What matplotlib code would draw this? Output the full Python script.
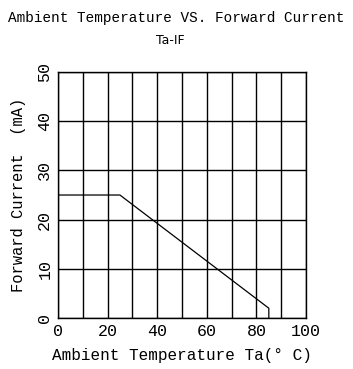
import matplotlib
matplotlib.use("Agg")
import matplotlib.pyplot as plt

# derating curve: ambient temperature vs. max forward current
temp = [0, 25, 85, 85]
current = [25, 25, 2, 0]

xticks = [0, 20, 40, 60, 80, 100]
yticks = [0, 10, 20, 30, 40, 50]

mono = "Liberation Mono"

fig = plt.figure(figsize=(3.53, 3.69), dpi=100)
ax = fig.add_axes([0.164, 0.138, 0.703, 0.667])

ax.plot(temp, current, color="black", lw=0.9)

ax.set_xlim(0, 100)
ax.set_ylim(0, 50)
ax.set_xticks(xticks)
ax.set_yticks(yticks)
ax.set_xticks(range(0, 101, 10), minor=True)
ax.grid(True, which="both", color="black", lw=1.0)
ax.tick_params(which="both", length=0)
ax.tick_params(axis="x", pad=4)
ax.tick_params(axis="y", pad=4)
for lbl in ax.get_xticklabels():
    lbl.set_fontfamily(mono)
    lbl.set_fontsize(12)
for lbl in ax.get_yticklabels():
    lbl.set_fontfamily(mono)
    lbl.set_fontsize(12)
    lbl.set_rotation(90)
    lbl.set_va("center")
for s in ax.spines.values():
    s.set_linewidth(1.0)
    s.set_color("black")

ax.set_xlabel("Ambient Temperature Ta(° C)", fontfamily=mono, fontsize=11.5, labelpad=7)
ax.set_ylabel("Forward Current  (mA)", fontfamily=mono, fontsize=11.2, labelpad=8)

fig.text(0.5, 0.95, "Ambient Temperature VS. Forward Current", fontfamily=mono,
         fontsize=10.4, ha="center", va="center")
fig.text(0.482, 0.89, "Ta-IF", fontfamily="DejaVu Sans", fontsize=9,
         ha="center", va="center")

fig.savefig("out.png", dpi=100)
